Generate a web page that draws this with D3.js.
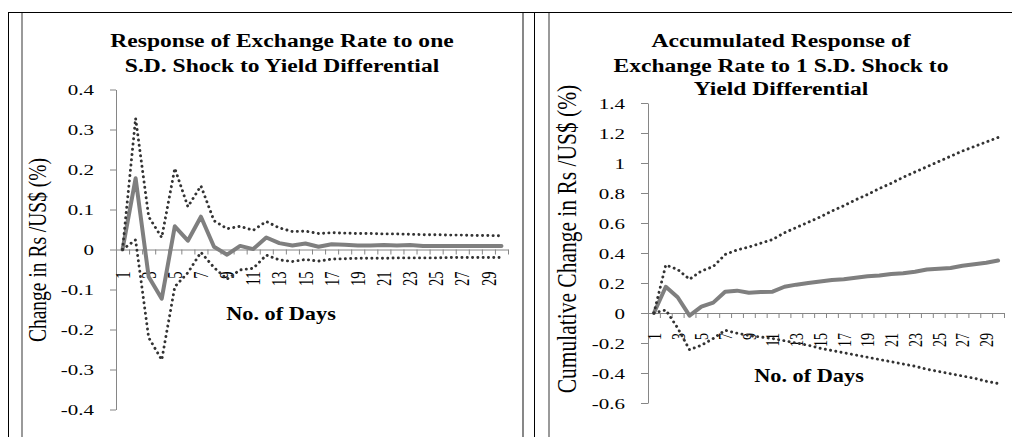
<!DOCTYPE html>
<html>
<head>
<meta charset="utf-8">
<script src="https://cdn.jsdelivr.net/npm/d3@7/dist/d3.min.js"></script>
<style>
  body { margin: 0; background: #fff; }
  svg { display: block; }
</style>
</head>
<body>
<svg id="chart" width="1012" height="437"></svg>
<script>
// Forecast horizon (days) and the labelled subset on the category axes
const days = [1, 2, 3, 4, 5, 6, 7, 8, 9, 10, 11, 12, 13, 14, 15, 16, 17, 18, 19, 20, 21, 22, 23, 24, 25, 26, 27, 28, 29, 30];
const dayLabels = [1, 3, 5, 7, 9, 11, 13, 15, 17, 19, 21, 23, 25, 27, 29];

// Impulse response of the exchange rate (% change) with its error bands
const irfResponse = [0, 0.178, -0.068, -0.123, 0.058, 0.022, 0.082, 0.007, -0.013, 0.009, 0.001, 0.030, 0.016, 0.010, 0.015, 0.007, 0.013, 0.012, 0.010, 0.010, 0.011, 0.010, 0.011, 0.009, 0.009, 0.009, 0.009, 0.009, 0.009, 0.009];
const irfUpper = [0, 0.328, 0.082, 0.030, 0.203, 0.107, 0.159, 0.072, 0.052, 0.058, 0.048, 0.070, 0.054, 0.045, 0.046, 0.040, 0.042, 0.041, 0.040, 0.040, 0.039, 0.039, 0.038, 0.037, 0.037, 0.036, 0.036, 0.035, 0.035, 0.034];
const irfLower = [0, 0.024, -0.220, -0.276, -0.093, -0.058, -0.007, -0.045, -0.074, -0.051, -0.047, -0.014, -0.026, -0.030, -0.025, -0.029, -0.024, -0.023, -0.022, -0.022, -0.022, -0.021, -0.021, -0.021, -0.021, -0.020, -0.020, -0.020, -0.020, -0.020];
const irfTicks = [0.4, 0.3, 0.2, 0.1, 0, -0.1, -0.2, -0.3, -0.4];
const irfTickLabels = ["0.4", "0.3", "0.2", "0.1", "0", "-0.1", "-0.2", "-0.3", "-0.4"];

// Accumulated response (cumulative % change) with its error bands
const accResponse = [0, 0.175, 0.105, -0.018, 0.042, 0.069, 0.142, 0.149, 0.135, 0.140, 0.142, 0.175, 0.189, 0.200, 0.210, 0.220, 0.225, 0.235, 0.245, 0.250, 0.260, 0.265, 0.275, 0.290, 0.295, 0.300, 0.315, 0.325, 0.335, 0.350];
const accUpper = [0, 0.320, 0.290, 0.225, 0.280, 0.310, 0.390, 0.420, 0.440, 0.465, 0.490, 0.535, 0.570, 0.605, 0.640, 0.680, 0.715, 0.755, 0.790, 0.830, 0.865, 0.905, 0.940, 0.975, 1.010, 1.045, 1.080, 1.110, 1.140, 1.170];
const accLower = [0, 0.020, -0.100, -0.245, -0.215, -0.170, -0.115, -0.135, -0.150, -0.160, -0.170, -0.185, -0.200, -0.215, -0.235, -0.250, -0.265, -0.280, -0.295, -0.310, -0.325, -0.340, -0.355, -0.375, -0.390, -0.405, -0.420, -0.435, -0.455, -0.470];
const accTicks = [1.4, 1.2, 1, 0.8, 0.6, 0.4, 0.2, 0, -0.2, -0.4, -0.6];
const accTickLabels = ["1.4", "1.2", "1", "0.8", "0.6", "0.4", "0.2", "0", "-0.2", "-0.4", "-0.6"];

const SERIF = "'Liberation Serif', 'Times New Roman', serif";
const AXIS = "#868686";
const STRETCH = 1.24;   // wide-set lettering used throughout

const svg = d3.select("#chart");

// Page frame: ruled table borders around the two panels
const frame = svg.append("g").attr("class", "frame");
frame.append("line").attr("x1", 8).attr("x2", 1012).attr("y1", 12.5).attr("y2", 12.5).attr("stroke", "#000").attr("stroke-width", 1);
frame.append("line").attr("x1", 8.5).attr("x2", 8.5).attr("y1", 12).attr("y2", 437).attr("stroke", "#000").attr("stroke-width", 1);
frame.append("line").attr("x1", 22).attr("x2", 22).attr("y1", 13).attr("y2", 437).attr("stroke", "#9a9a9a").attr("stroke-width", 2);
frame.append("line").attr("x1", 523).attr("x2", 523).attr("y1", 13).attr("y2", 437).attr("stroke", "#6a6a6a").attr("stroke-width", 1.6);
frame.append("line").attr("x1", 534.5).attr("x2", 534.5).attr("y1", 12).attr("y2", 437).attr("stroke", "#000").attr("stroke-width", 1);
frame.append("line").attr("x1", 549).attr("x2", 549).attr("y1", 13).attr("y2", 437).attr("stroke", "#9a9a9a").attr("stroke-width", 2);

function panel(cfg) {
  const g = svg.append("g");
  const x = d3.scaleBand().domain(days).range(cfg.xRange).padding(0);
  const xEdge = d3.scaleLinear().domain([0, days.length]).range(cfg.xRange);
  const y = d3.scaleLinear().domain(cfg.yDomain).range(cfg.yRange);

  // Value axis
  const yAxis = g.append("g")
    .attr("transform", `translate(${cfg.xRange[0]},0)`)
    .call(d3.axisLeft(y).tickValues(cfg.ticks).tickSize(cfg.yTickSize).tickSizeOuter(0)
      .tickFormat((d, i) => cfg.tickLabels[i]));
  yAxis.select(".domain").attr("stroke", AXIS);
  yAxis.selectAll(".tick line").attr("stroke", AXIS);
  yAxis.selectAll(".tick text")
    .attr("x", 0).attr("dy", "0.35em")
    .attr("text-anchor", "end")
    .attr("transform", `translate(${-cfg.yLabelGap},0) scale(${cfg.tickStretch},1)`)
    .style("font-family", SERIF).style("font-size", cfg.tickFont + "px").attr("fill", "#000");

  // Category axis crossing at zero: boundary ticks
  const y0 = y(0);
  const xTicks = g.append("g")
    .attr("transform", `translate(0,${y0})`)
    .call(d3.axisBottom(xEdge).tickValues(d3.range(0, days.length + 1)).tickSize(5).tickSizeOuter(0).tickFormat(""));
  xTicks.select(".domain").attr("stroke", AXIS);
  xTicks.selectAll(".tick line").attr("stroke", AXIS);

  // Category labels, rotated
  const xLabels = g.append("g")
    .attr("transform", `translate(0,${y0})`)
    .call(d3.axisBottom(x).tickValues(dayLabels).tickSize(0));
  xLabels.select(".domain").remove();
  xLabels.selectAll(".tick text")
    .attr("x", 0).attr("y", 0).attr("dy", "0.35em")
    .attr("text-anchor", "end")
    .attr("transform", `translate(0,${cfg.xLabelGap}) rotate(-90) scale(1,${cfg.tickStretch})`)
    .style("font-family", SERIF).style("font-size", cfg.xTickFont + "px").attr("fill", "#000");

  const line = d3.line()
    .x((d, i) => x(days[i]) + x.bandwidth() / 2)
    .y(d => y(d));

  // Response
  g.append("path").datum(cfg.main)
    .attr("d", line).attr("fill", "none")
    .attr("stroke", "#7f7f7f").attr("stroke-width", 4)
    .attr("stroke-linejoin", "round").attr("stroke-linecap", "round");

  // Error bands (dotted)
  [cfg.upper, cfg.lower].forEach(series => {
    g.append("path").datum(series)
      .attr("d", line).attr("fill", "none")
      .attr("stroke", "#333").attr("stroke-width", 2.9)
      .attr("stroke-dasharray", "0.1 5.2").attr("stroke-linecap", "round")
      .attr("stroke-linejoin", "round");
  });

  // Title lines
  cfg.title.forEach((t, i) => {
    g.append("text")
      .attr("transform", `translate(${cfg.titleX},${cfg.titleY[i]}) scale(${STRETCH},1)`)
      .attr("text-anchor", "middle")
      .style("font-family", SERIF).style("font-size", "19px").style("font-weight", "bold")
      .attr("fill", "#000").text(t);
  });

  // Axis titles
  g.append("text")
    .attr("transform", `translate(${cfg.xTitle[0]},${cfg.xTitle[1]}) scale(${STRETCH},1)`)
    .attr("text-anchor", "middle")
    .style("font-family", SERIF).style("font-size", "18px").style("font-weight", "bold")
    .attr("fill", "#000").text("No. of Days");

  g.append("text")
    .attr("transform", `translate(${cfg.yTitle[0]},${cfg.yTitle[1]}) rotate(-90) scale(1,${STRETCH})`)
    .attr("text-anchor", "middle")
    .style("font-family", SERIF).style("font-size", cfg.yTitleFont + "px")
    .attr("fill", "#000").text(cfg.yTitleText);
}

panel({
  xRange: [116, 508], yDomain: [-0.4, 0.4], yRange: [409.5, 89.5],
  ticks: irfTicks, tickLabels: irfTickLabels,
  main: irfResponse, upper: irfUpper, lower: irfLower,
  yTickSize: 6, yLabelGap: 22, xLabelGap: 22,
  tickFont: 15, xTickFont: 14.5, tickStretch: 1.4,
  title: ["Response of Exchange Rate to one", "S.D. Shock to Yield Differential"],
  titleX: 282, titleY: [47, 72],
  xTitle: [281, 320],
  yTitle: [46, 250], yTitleFont: 19.5, yTitleText: "Change in Rs /US$ (%)"
});

panel({
  xRange: [648, 1004], yDomain: [-0.6, 1.4], yRange: [403, 103],
  ticks: accTicks, tickLabels: accTickLabels,
  main: accResponse, upper: accUpper, lower: accLower,
  yTickSize: 7, yLabelGap: 23, xLabelGap: 20,
  tickFont: 15, xTickFont: 14, tickStretch: 1.4,
  title: ["Accumulated Response of", "Exchange Rate to 1 S.D. Shock to", "Yield Differential"],
  titleX: 781, titleY: [47, 72, 95],
  xTitle: [809, 382],
  yTitle: [576, 239], yTitleFont: 21.5, yTitleText: "Cumulative Change in Rs /US$ (%)"
});
</script>
</body>
</html>
